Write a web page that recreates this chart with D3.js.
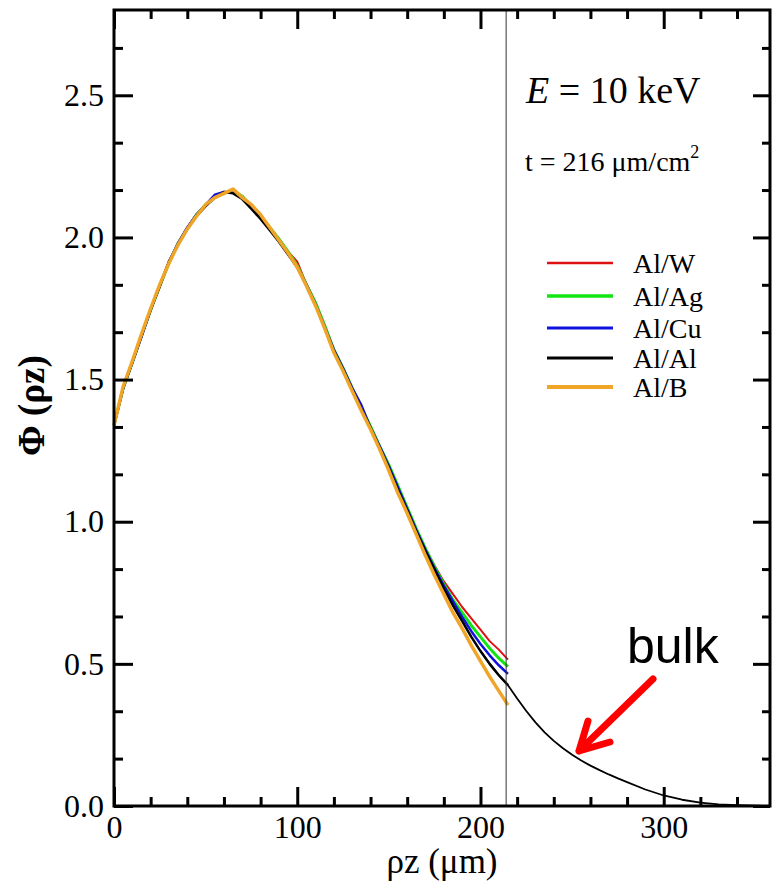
<!DOCTYPE html>
<html>
<head>
<meta charset="utf-8">
<script src="https://cdn.jsdelivr.net/npm/d3@7"></script>
<style>
  body { margin: 0; background: #fff; }
  svg { display: block; }
</style>
</head>
<body>
<script>
// depth grid (ρz, µm) shared by the film curves
const xs = [0,5,10,15,20,25,30,35,40,45,50,55,60,65,70,75,80,85,90,95,100,105,110,115,120,125,130,135,140,145,150,155,160,165,170,175,180,185,190,195,200,205,210,215]

const phiW  = [1.34,1.47,1.565,1.65,1.75,1.825,1.91,1.98,2.035,2.08,2.115,2.145,2.155,2.165,2.145,2.11,2.075,2.035,1.995,1.95,1.915,1.835,1.77,1.685,1.605,1.54,1.47,1.40,1.335,1.265,1.195,1.12,1.05,0.975,0.905,0.845,0.79,0.745,0.70,0.66,0.62,0.58,0.55,0.515]
const phiAg = [1.34,1.47,1.56,1.655,1.745,1.83,1.91,1.98,2.03,2.08,2.115,2.14,2.155,2.165,2.145,2.11,2.075,2.035,1.995,1.95,1.90,1.835,1.77,1.69,1.605,1.54,1.47,1.40,1.335,1.265,1.20,1.125,1.05,0.975,0.905,0.84,0.78,0.725,0.68,0.635,0.595,0.555,0.52,0.49]
const phiCu = [1.34,1.47,1.56,1.65,1.745,1.83,1.915,1.98,2.035,2.08,2.115,2.15,2.16,2.16,2.14,2.105,2.07,2.03,1.99,1.945,1.895,1.835,1.765,1.685,1.605,1.54,1.47,1.41,1.33,1.265,1.195,1.12,1.045,0.97,0.90,0.835,0.775,0.72,0.665,0.615,0.57,0.53,0.495,0.465]
const phiAl = [1.34,1.47,1.56,1.655,1.745,1.83,1.915,1.975,2.03,2.075,2.11,2.14,2.16,2.155,2.135,2.10,2.065,2.025,1.985,1.94,1.895,1.83,1.76,1.68,1.60,1.535,1.465,1.395,1.33,1.26,1.19,1.11,1.04,0.965,0.895,0.83,0.765,0.705,0.65,0.595,0.545,0.50,0.46,0.425]
const phiB  = [1.34,1.475,1.565,1.66,1.75,1.835,1.91,1.975,2.03,2.075,2.115,2.14,2.155,2.17,2.14,2.115,2.08,2.035,1.99,1.945,1.895,1.83,1.76,1.68,1.595,1.53,1.46,1.39,1.325,1.255,1.18,1.10,1.03,0.955,0.88,0.81,0.745,0.68,0.625,0.565,0.51,0.455,0.405,0.355]

// bulk Al tail
const bulkX   = [200,205,210,215,220,225,230,235,240,245,250,255,260,265,270,275,280,290,300,310,320,330,340,350,358]
const bulkPhi = [0.545,0.50,0.46,0.425,0.378,0.334,0.294,0.259,0.229,0.203,0.18,0.16,0.142,0.126,0.111,0.097,0.084,0.058,0.037,0.022,0.012,0.006,0.003,0.001,0.0]

const seriesNames = ['Al/W', 'Al/Ag', 'Al/Cu', 'Al/Al', 'Al/B']
const seriesVals = [phiW, phiAg, phiCu, phiAl, phiB]
const colors = ['#dd1111', '#11e611', '#1111dd', '#000000', '#f0a528']
const widths = [2, 3, 2.5, 2.5, 3.5]

const xMajor = [0, 100, 200, 300]
const yMajor = [0, 0.5, 1.0, 1.5, 2.0, 2.5]
const filmT = 214

{
    let width = 774
    let height = 883
    let left = 114, right = 770, top = 10, bottom = 806
    let serif = '"Liberation Serif", "Times New Roman", serif'

    let svg = d3.select('body').append('svg')
        .attr('width', width)
        .attr('height', height)

    let x = d3.scaleLinear().domain([0, 358]).range([left, right])
    let y = d3.scaleLinear().domain([0, 2.8]).range([bottom, top])

    let xMinor = d3.range(0, 358, 20).filter(v => v % 100 != 0)
    let yMinor = d3.range(0, 2.8, 0.5 / 3).filter(v => Math.abs(v * 2 - Math.round(v * 2)) > 0.01)

    // curves
    let line = d3.line()
        .x(d => x(d[0]))
        .y(d => y(d[1]))

    svg.append('path')
        .attr('d', line(bulkX.map((v, i) => [v, bulkPhi[i]])))
        .attr('stroke', '#000')
        .attr('stroke-width', 1.8)
        .attr('stroke-linejoin', 'round')
        .attr('fill', 'none')

    seriesVals.forEach((vals, k) => {
        svg.append('path')
            .attr('d', line(xs.map((v, i) => [v, vals[i]])))
            .attr('stroke', colors[k])
            .attr('stroke-width', widths[k])
            .attr('stroke-linejoin', 'round')
            .attr('fill', 'none')
    })

    // film thickness marker
    svg.append('line')
        .attr('x1', x(filmT)).attr('x2', x(filmT))
        .attr('y1', top).attr('y2', bottom)
        .attr('stroke', '#333')
        .attr('stroke-width', 1)

    // axes, ticks pointing inwards
    function styleAxis(g) {
        g.select('.domain').remove()
        g.selectAll('.tick line').attr('stroke', '#000').attr('stroke-width', 3)
        g.selectAll('.tick text').attr('font-family', serif).attr('font-size', 32).attr('fill', '#000')
    }

    svg.append('g').attr('transform', `translate(0,${bottom})`)
        .call(d3.axisBottom(x).tickValues(xMajor).tickSize(-19).tickPadding(9).tickFormat(d3.format('d')))
        .call(styleAxis)
    svg.append('g').attr('transform', `translate(0,${bottom})`)
        .call(d3.axisBottom(x).tickValues(xMinor).tickSize(-9).tickFormat(''))
        .call(styleAxis)
    svg.append('g').attr('transform', `translate(0,${top})`)
        .call(d3.axisTop(x).tickValues(xMajor).tickSize(-19).tickFormat(''))
        .call(styleAxis)
    svg.append('g').attr('transform', `translate(0,${top})`)
        .call(d3.axisTop(x).tickValues(xMinor).tickSize(-9).tickFormat(''))
        .call(styleAxis)

    svg.append('g').attr('transform', `translate(${left},0)`)
        .call(d3.axisLeft(y).tickValues(yMajor).tickSize(-19).tickPadding(10).tickFormat(d3.format('.1f')))
        .call(styleAxis)
    svg.append('g').attr('transform', `translate(${left},0)`)
        .call(d3.axisLeft(y).tickValues(yMinor).tickSize(-9).tickFormat(''))
        .call(styleAxis)
    svg.append('g').attr('transform', `translate(${right},0)`)
        .call(d3.axisRight(y).tickValues(yMajor).tickSize(-17).tickFormat(''))
        .call(styleAxis)
    svg.append('g').attr('transform', `translate(${right},0)`)
        .call(d3.axisRight(y).tickValues(yMinor).tickSize(-8).tickFormat(''))
        .call(styleAxis)

    svg.append('rect')
        .attr('x', left).attr('y', top)
        .attr('width', right - left).attr('height', bottom - top)
        .attr('fill', 'none')
        .attr('stroke', '#000')
        .attr('stroke-width', 3)

    // axis titles
    svg.append('text')
        .attr('x', (left + right) / 2).attr('y', 873)
        .attr('text-anchor', 'middle')
        .attr('font-family', serif).attr('font-size', 35)
        .text('ρz (μm)')
    svg.append('text')
        .attr('transform', 'translate(44,456) rotate(-90)')
        .attr('text-anchor', 'start')
        .attr('font-family', serif).attr('font-size', 37).attr('font-weight', 'bold')
        .text('Φ (ρz)')

    // annotations
    let e = svg.append('text')
        .attr('x', 526).attr('y', 103)
        .attr('font-family', serif).attr('font-size', 38)
    e.append('tspan').attr('font-style', 'italic').text('E')
    e.append('tspan').text(' = 10 keV')

    let t = svg.append('text')
        .attr('x', 525).attr('y', 171)
        .attr('font-family', serif).attr('font-size', 28)
    t.append('tspan').text('t = 216 μm/cm')
    t.append('tspan').attr('font-size', 18).attr('dy', -13).text('2')

    // legend
    let legendY = [263, 296, 328, 358, 387]
    seriesNames.forEach((name, k) => {
        svg.append('line')
            .attr('x1', 547).attr('x2', 613)
            .attr('y1', legendY[k]).attr('y2', legendY[k])
            .attr('stroke', colors[k])
            .attr('stroke-width', widths[k] + 0.5)
        svg.append('text')
            .attr('x', 633).attr('y', legendY[k] + 10)
            .attr('font-family', serif).attr('font-size', 28)
            .text(name)
    })

    // bulk label and arrow
    svg.append('text')
        .attr('x', 627).attr('y', 663)
        .attr('font-family', '"Liberation Sans", Arial, sans-serif')
        .attr('font-size', 50)
        .text('bulk')
    svg.append('path')
        .attr('d', 'M653,679 L579,751 M588,721 L579,751 L610,742')
        .attr('stroke', '#ff0000')
        .attr('stroke-width', 7)
        .attr('stroke-linecap', 'round')
        .attr('stroke-linejoin', 'round')
        .attr('fill', 'none')
}
</script>
</body>
</html>
